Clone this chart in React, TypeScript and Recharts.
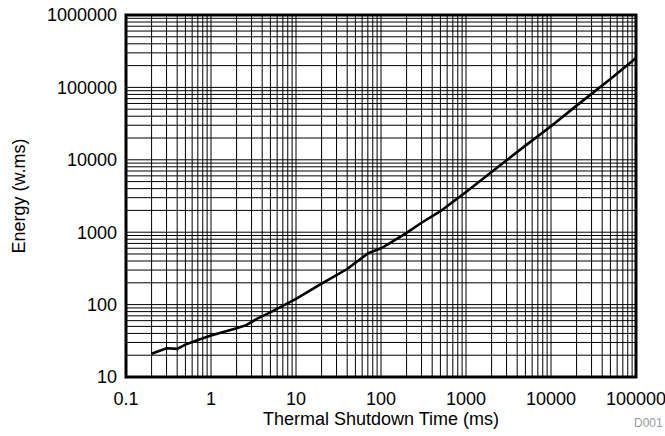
import { LineChart, Line, XAxis, YAxis, CartesianGrid, ReferenceArea } from 'recharts';

// Thermal shutdown time (ms) vs. energy (w.ms)
const TIMES = [0.2, 0.3, 0.4, 0.5, 0.7, 1, 1.3, 2, 2.6, 3.5, 5, 10, 20, 40, 70, 100, 130, 200, 300, 500, 1000, 2000, 5000, 10000, 20000, 50000, 100000];
const ENERGY = [21, 25, 24.5, 28, 32.5, 37.5, 41, 47, 52, 64, 78, 120, 195, 310, 510, 600, 720, 980, 1350, 1950, 3600, 6800, 15700, 29000, 56000, 131000, 255000];

const X_DECADES = [0.1, 1, 10, 100, 1000, 10000, 100000];
const Y_DECADES = [10, 100, 1000, 10000, 100000, 1000000];
const MINOR_STEPS = [1, 2, 3, 4, 5, 6, 7, 8, 9];

const gridValues = (decades: number[]) => {
  const out: number[] = [];
  decades.forEach((d, i) => {
    if (i === decades.length - 1) { out.push(d); return; }
    MINOR_STEPS.forEach((m) => out.push(Number((d * m).toPrecision(6))));
  });
  return out;
};

const X_TICKS = gridValues(X_DECADES);
const Y_TICKS = gridValues(Y_DECADES);

const data = TIMES.map((t, i) => ({ time: t, energy: ENERGY[i] }));

const font = '"Liberation Sans", Arial, sans-serif';
const tickStyle = { fontSize: 18, fill: '#000', fontFamily: font };

const xLabel = (v: number) => (X_DECADES.includes(v) ? String(v) : '');
const yLabel = (v: number) => (Y_DECADES.includes(v) ? String(v) : '');

export default function App() {
  return (
    <div style={{ position: 'absolute', left: 0, top: 0, width: 665, height: 436, background: '#fff', fontFamily: font }}>
      <LineChart width={665} height={436} data={data} margin={{ top: 15, right: 29, bottom: 0, left: 0 }}>
        <CartesianGrid stroke="#000" strokeWidth={1} />
        <XAxis
          dataKey="time"
          type="number"
          scale="log"
          domain={[0.1, 100000]}
          allowDataOverflow
          ticks={X_TICKS}
          interval={0}
          tickFormatter={xLabel}
          tickLine={false}
          axisLine={false}
          tickMargin={9}
          height={59}
          tick={tickStyle}
          label={{ value: 'Thermal Shutdown Time (ms)', position: 'insideBottom', offset: 11, style: { fontSize: 18, fill: '#000', fontFamily: font } }}
        />
        <YAxis
          type="number"
          scale="log"
          domain={[10, 1000000]}
          allowDataOverflow
          ticks={Y_TICKS}
          interval={0}
          tickFormatter={yLabel}
          tickLine={false}
          axisLine={false}
          tickMargin={3}
          width={126}
          tick={tickStyle}
          label={{ value: 'Energy (w.ms)', angle: -90, position: 'insideLeft', offset: 19, style: { fontSize: 18, fill: '#000', fontFamily: font, textAnchor: 'middle' } }}
        />
        <ReferenceArea x1={0.1} x2={100000} y1={10} y2={1000000} fill="none" stroke="#000" strokeWidth={3} ifOverflow="visible" />
        <Line type="linear" dataKey="energy" stroke="#000" strokeWidth={2.6} dot={false} isAnimationActive={false} />
      </LineChart>
      <div style={{ position: 'absolute', left: 634, top: 416, fontSize: 12, lineHeight: '14px', color: '#9a9a9a' }}>D001</div>
    </div>
  );
}
